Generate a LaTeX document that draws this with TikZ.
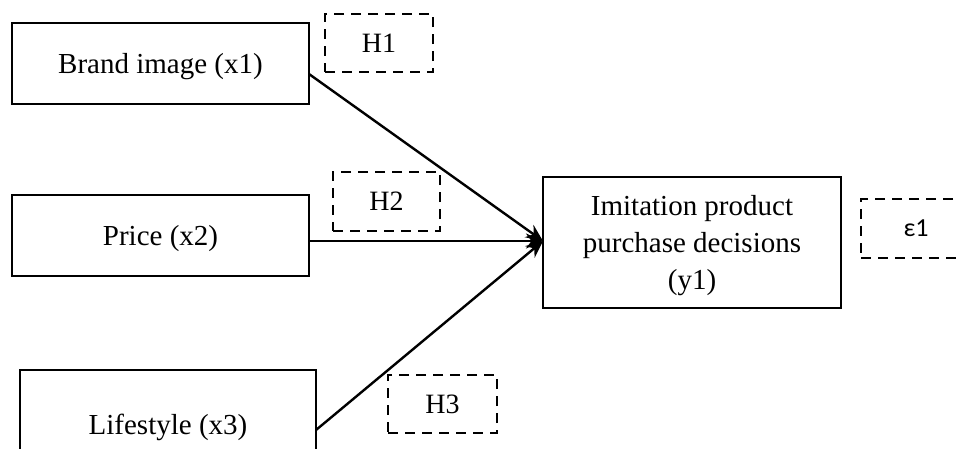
\documentclass[tikz,border=0pt]{standalone}
\usepackage{fontspec}
\setmainfont{Liberation Serif}
\newfontfamily\epsfont{Carlito}
\usetikzlibrary{arrows.meta}
\begin{document}
\begin{tikzpicture}[x=1pt,y=-1pt,
  varbox/.style={draw, line width=1.6pt, inner sep=0pt, outer sep=0pt,
    font=\fontsize{29}{37}\selectfont, align=center, text depth=0pt},
  hypbox/.style={draw, line width=2.6pt, dash pattern=on 10pt off 7pt,
    inner sep=0pt, outer sep=0pt, font=\fontsize{28}{34}\selectfont, text depth=0pt},
  link/.style={line width=2.4pt, -{Stealth[length=17pt,width=15pt]}}]
\clip (0,0) rectangle (960,448);
\fill[white] (0,0) rectangle (960,448);
\node[varbox, minimum width=297pt, minimum height=81pt] (b1) at (160.5,63.5) {Brand image (x1)};
\node[varbox, minimum width=297pt, minimum height=81pt] (b2) at (160.5,235.5) {Price (x2)};
\node[varbox, minimum width=296pt, minimum height=108pt] (b3) at (168,424) {Lifestyle (x3)};
\node[varbox, minimum width=298pt, minimum height=131pt] (t) at (692,242.5) {Imitation product\\purchase decisions\\(y1)};
\node[hypbox, minimum width=108pt, minimum height=58pt] (h1) at (379,43) {H1};
\node[hypbox, minimum width=107pt, minimum height=59pt] (h2) at (386.5,201.5) {H2};
\node[hypbox, minimum width=109pt, minimum height=58pt] (h3) at (442.5,404) {H3};
\node[hypbox, minimum width=110pt, minimum height=59pt, font=\epsfont\fontsize{26}{30}\selectfont] (e1) at (916,228.5) {ε1};
\draw[link] ([yshift=-10.5pt]b1.east) -- ([yshift=1.5pt]t.west);
\draw[link] ([yshift=-5.5pt]b2.east) -- ([yshift=1.5pt]t.west);
\draw[link] ([yshift=-6pt]b3.east) -- ([yshift=1.5pt]t.west);
\end{tikzpicture}
\end{document}
